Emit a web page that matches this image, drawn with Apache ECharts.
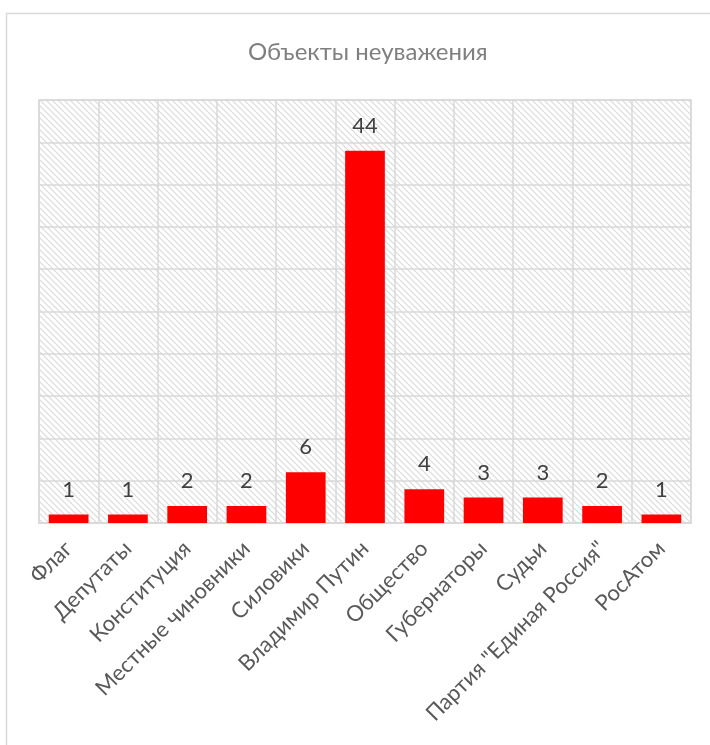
<!DOCTYPE html>
<html>
<head>
<meta charset="utf-8">
<script src="https://cdn.jsdelivr.net/npm/echarts@6/dist/echarts.min.js"></script>
<style>
html,body{margin:0;padding:0;background:#fff;}
#chart{width:710px;height:745px;}
</style>
</head>
<body>
<div id="chart"></div>
<script>
var titleText = 'Объекты неуважения';
var categories = ['Флаг', 'Депутаты', 'Конституция', 'Местные чиновники', 'Силовики', 'Владимир Путин', 'Общество', 'Губернаторы', 'Судьи', 'Партия "Единая Россия"', 'РосАтом'];
var values = [1, 1, 2, 2, 6, 44, 4, 3, 3, 2, 1];
var yMin = 0, yMax = 50, yInterval = 5;

var FONT = 'Lato, "Noto Sans", "Open Sans", sans-serif';

// hatch pattern tile
var tile = document.createElement('canvas');
tile.width = 6; tile.height = 6;
var c = tile.getContext('2d');
c.fillStyle = '#ffffff';
c.fillRect(0, 0, 6, 6);
c.strokeStyle = '#d9d9d9';
c.lineWidth = 1.1;
c.beginPath();
c.moveTo(-1, -1); c.lineTo(7, 7);
c.moveTo(-1, 5); c.lineTo(1, 7);
c.moveTo(5, -1); c.lineTo(7, 1);
c.stroke();

var chart = echarts.init(document.getElementById('chart'), null, {renderer: 'canvas'});
chart.setOption({
  backgroundColor: '#ffffff',
  animation: false,
  title: {
    text: titleText,
    left: 243,
    top: 35,
    textStyle: {fontFamily: FONT, fontSize: 24, fontWeight: 'normal', color: '#7f7f7f'}
  },
  graphic: [{
    type: 'rect',
    shape: {x: 6.5, y: 13.5, width: 720, height: 760},
    style: {fill: 'none', stroke: '#d9d9d9', lineWidth: 1.5},
    silent: true
  }],
  grid: {
    left: 39, right: 19, top: 100, bottom: 222,
    show: true,
    backgroundColor: {image: tile, repeat: 'repeat'},
    borderColor: '#d9d9d9',
    borderWidth: 1.5
  },
  xAxis: {
    type: 'category',
    data: categories,
    axisLine: {lineStyle: {color: '#d9d9d9', width: 1.5}},
    axisTick: {show: false},
    splitLine: {show: true, lineStyle: {color: '#d9d9d9', width: 1.5}},
    axisLabel: {
      rotate: 45,
      interval: 0,
      margin: 22,
      fontFamily: FONT,
      fontSize: 22,
      color: '#595959'
    }
  },
  yAxis: {
    type: 'value',
    min: yMin, max: yMax, interval: yInterval,
    axisLine: {show: false},
    axisTick: {show: false},
    axisLabel: {show: false},
    splitLine: {show: true, lineStyle: {color: '#d9d9d9', width: 1.5}}
  },
  series: [{
    type: 'bar',
    data: values,
    barCategoryGap: '33%',
    itemStyle: {color: '#ff0000'},
    label: {
      show: true,
      position: 'top',
      distance: 14,
      fontFamily: FONT,
      fontSize: 22,
      color: '#404040'
    }
  }]
});
</script>
</body>
</html>
